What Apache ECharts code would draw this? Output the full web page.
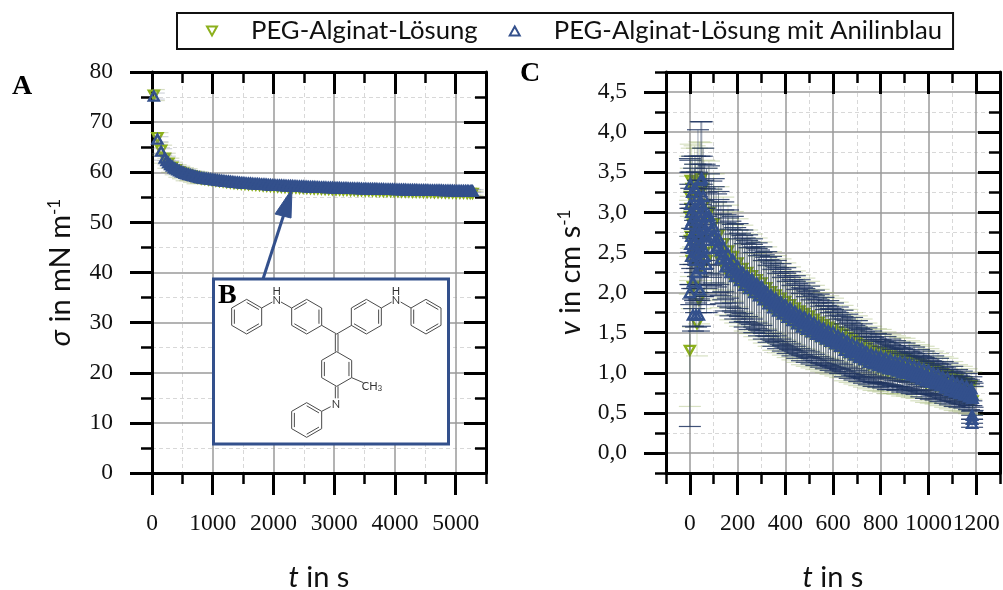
<!DOCTYPE html>
<html><head><meta charset="utf-8">
<style>html,body{margin:0;padding:0;background:#fff}#c{width:1003px;height:590px}</style>
<script src="https://cdn.jsdelivr.net/npm/echarts@6/dist/echarts.min.js"></script>
</head><body><div id="c"></div>
<script>
const nameGreen='PEG-Alginat-Lösung', nameBlue='PEG-Alginat-Lösung mit Anilinblau';
const GREEN='#8cb01c', BLUE='#33508c', NAVY='#1e3460';
const SERIF='"Liberation Serif",serif', SANS='Lato,"Open Sans",sans-serif';

// Panel A
const tA=[30,90,150,210,270,330,390,450,510,570,
630,690,750,810,870,930,990,1050,1110,1170,
1230,1290,1350,1410,1470,1530,1590,1650,1710,1770,
1830,1890,1950,2010,2070,2130,2190,2250,2310,2370,
2430,2490,2550,2610,2670,2730,2790,2850,2910,2970,
3030,3090,3150,3210,3270,3330,3390,3450,3510,3570,
3630,3690,3750,3810,3870,3930,3990,4050,4110,4170,
4230,4290,4350,4410,4470,4530,4590,4650,4710,4770,
4830,4890,4950,5010,5070,5130,5190,5240,5280];
const blueA=[75.2,66.6,64.2,62.8,61.9,61.2,60.7,60.3,60.0,59.7,
59.5,59.3,59.1,58.9,58.8,58.7,58.6,58.5,58.4,58.3,
58.2,58.15,58.05,58.0,57.9,57.85,57.8,57.75,57.7,57.65,
57.6,57.55,57.5,57.45,57.4,57.4,57.35,57.3,57.3,57.25,
57.2,57.2,57.15,57.1,57.1,57.05,57.0,57.0,56.95,56.95,
56.9,56.9,56.85,56.85,56.8,56.8,56.8,56.75,56.75,56.7,
56.7,56.7,56.65,56.65,56.6,56.6,56.6,56.55,56.55,56.55,
56.5,56.5,56.5,56.45,56.45,56.45,56.4,56.4,56.4,56.4,
56.35,56.35,56.35,56.3,56.3,56.3,56.3,56.25,56.25];
const tA2=[240,300,360,420,480,540,600,
660,720,780,840,900,960,1020,1080,1140,1200,
1260,1320,1380,1440,1500,1560,1620,1680,1740,1800,
1860,1920,1980,2040,2100,2160,2220,2280,2340,2400,
2460,2520,2580,2640,2700,2760,2820,2880,2940,3000,
3060,3120,3180,3240,3300,3360,3420,3480,3540,3600,
3660,3720,3780,3840,3900,3960,4020,4080,4140,4200,
4260,4320,4380,4440,4500,4560,4620,4680,4740,4800,
4860,4920,4980,5040,5100,5160,5215,5260];
const blueA2=[62.3,61.5,60.9,60.5,60.1,59.8,59.6,
59.4,59.2,59.0,58.85,58.75,58.65,58.55,58.45,58.35,58.25,
58.2,58.1,58.0,57.95,57.9,57.8,57.8,57.7,57.7,57.6,
57.6,57.5,57.45,57.4,57.4,57.35,57.3,57.3,57.25,57.2,
57.2,57.15,57.1,57.1,57.05,57.0,57.0,56.95,56.95,56.9,
56.9,56.85,56.85,56.8,56.8,56.75,56.75,56.7,56.7,56.7,
56.7,56.65,56.65,56.6,56.6,56.6,56.55,56.55,56.55,56.5,
56.5,56.5,56.45,56.45,56.45,56.4,56.4,56.4,56.4,56.35,
56.35,56.35,56.3,56.3,56.3,56.3,56.25,56.25];
const greenA=[75.4,66.9,64.4,62.8,61.8,61.0,60.5,60.1,59.8,59.5,
59.3,59.1,58.9,58.7,58.6,58.5,58.4,58.3,58.2,58.1,
58.0,57.9,57.8,57.75,57.65,57.6,57.55,57.5,57.45,57.4,
57.3,57.25,57.2,57.15,57.1,57.05,57.0,56.95,56.95,56.9,
56.85,56.85,56.8,56.75,56.7,56.7,56.65,56.6,56.6,56.55,
56.5,56.5,56.45,56.45,56.4,56.4,56.35,56.35,56.3,56.3,
56.3,56.25,56.25,56.2,56.2,56.2,56.15,56.15,56.1,56.1,
56.1,56.05,56.05,56.05,56.0,56.0,56.0,55.95,55.95,55.95,
55.9,55.9,55.9,55.85,55.85,55.85,55.8,55.8,55.8];
const errBlueA=[0.6,0.5,0.5,0.4,0.4,0.4,0.4,0.4,0.4,0.4,
0.3,0.3,0.3,0.3,0.3,0.3,0.3,0.3,0.3,0.3,
0.3,0.3,0.3,0.3,0.3,0.3,0.3,0.3,0.3,0.3,
0.3,0.3,0.3,0.3,0.3,0.3,0.3,0.3,0.3,0.3,
0.3,0.3,0.3,0.3,0.3,0.3,0.3,0.3,0.3,0.3,
0.3,0.3,0.3,0.3,0.3,0.3,0.3,0.3,0.3,0.3,
0.3,0.3,0.3,0.3,0.3,0.3,0.3,0.3,0.3,0.3,
0.3,0.3,0.3,0.3,0.3,0.3,0.3,0.3,0.3,0.3,
0.3,0.3,0.3,0.3,0.3,0.3,0.3,0.3,0.3];
const errGreenA=[1.1,1.0,1.0,1.0,1.0,1.0,1.0,1.1,1.1,1.2,
1.0,1.1,1.2,0.9,0.8,0.8,0.8,0.7,0.7,0.7,
0.6,0.6,0.6,0.5,0.5,0.5,0.5,0.5,0.5,0.5,
0.4,0.4,0.4,0.4,0.4,0.4,0.4,0.4,0.4,0.4,
0.4,0.4,0.4,0.4,0.4,0.4,0.4,0.4,0.4,0.4,
0.4,0.4,0.4,0.4,0.4,0.4,0.4,0.4,0.4,0.4,
0.4,0.4,0.4,0.4,0.4,0.4,0.4,0.4,0.4,0.4,
0.4,0.4,0.4,0.4,0.4,0.4,0.4,0.4,0.4,0.4,
0.4,0.4,0.4,0.4,0.4,0.4,0.4,0.4,0.4];

// Panel C: scattered start of the measurement
const tEarlyBlue=[0,2,2,2,2,6,6,6,10,10,10,13,13,18,18,18,22,22,22,22,26,26,30,30,34,34,34,38,40,40,40,42,46,46,46,46,50,50,50,50,56,56,56,62,62,62,70,70,70];
const vEarlyBlue=[2.0,3.35,3.1,2.85,2.6,3.0,2.7,2.45,3.25,2.9,2.55,2.13,1.72,2.95,2.65,2.4,3.3,3.05,2.75,2.5,2.25,1.72,2.9,2.6,3.2,2.8,2.5,1.72,3.1,2.7,2.4,2.03,3.4,3.0,2.6,2.3,3.42,3.1,2.8,2.5,3.2,2.85,2.55,3.0,2.7,2.45,2.95,2.65,2.35];
const eEarlyBlue=[1.67,0.3,0.4,0.5,0.5,0.5,0.6,0.6,0.45,0.6,0.5,0.55,0.2,0.6,0.6,0.6,0.4,0.55,0.5,0.6,0.5,0.15,0.6,0.6,0.83,0.6,0.5,0.2,0.6,0.6,0.5,0.45,0.73,0.6,0.5,0.55,0.71,0.6,0.55,0.55,0.6,0.55,0.6,0.6,0.6,0.6,0.6,0.6,0.6];
const tEarlyGreen=[0,1,1,1,4,4,4,8,8,13,13,20,20,24,30,30,34,38,40,44,48,48,54,60,60,70,70];
const vEarlyGreen=[1.28,3.2,2.95,2.65,3.4,3.05,2.7,3.3,2.4,2.07,2.85,3.38,2.55,3.0,1.61,3.25,2.75,1.91,3.38,2.3,3.42,2.65,3.3,3.1,2.5,3.0,2.4];
const eEarlyGreen=[0.7,0.5,0.5,0.5,0.45,0.5,0.5,0.5,0.6,0.5,0.5,0.45,0.5,0.6,0.4,0.55,0.5,0.3,0.5,0.5,0.45,0.5,0.5,0.55,0.5,0.55,0.5];

// Panel C: main decay
const tC=[80,90,100,110,120,130,140,150,160,170,
180,190,200,210,220,230,240,250,260,270,
280,290,300,310,320,330,340,350,360,370,
380,390,400,410,420,430,440,450,460,470,
480,490,500,510,520,530,540,550,560,570,
580,590,600,610,620,630,640,650,660,670,
680,690,700,710,720,730,740,750,760,770,
780,790,800,810,820,830,840,850,860,870,
880,890,900,910,920,930,940,950,960,970,
980,990,1000,1010,1020,1030,1040,1050,1060,1070,
1080,1090,1100,1110,1120,1130,1140,1150,1160,1170,
1180,1185];
const vBlueC=[2.96,2.69,2.82,2.55,2.68,2.42,2.57,2.32,2.48,2.25,
2.41,2.20,2.33,2.15,2.26,2.09,2.21,2.05,2.17,2.00,
2.12,1.96,2.08,1.91,2.02,1.86,1.97,1.81,1.93,1.77,
1.89,1.73,1.85,1.69,1.81,1.65,1.77,1.61,1.73,1.57,
1.70,1.54,1.67,1.51,1.63,1.48,1.59,1.45,1.56,1.42,
1.53,1.39,1.51,1.36,1.47,1.33,1.44,1.28,1.40,1.25,
1.37,1.22,1.34,1.19,1.31,1.16,1.27,1.13,1.24,1.11,
1.22,1.09,1.21,1.07,1.19,1.05,1.17,1.04,1.15,1.02,
1.14,1.00,1.13,0.99,1.11,0.97,1.09,0.95,1.07,0.92,
1.05,0.90,1.03,0.88,1.00,0.86,0.98,0.84,0.95,0.81,
0.93,0.78,0.90,0.76,0.87,0.74,0.85,0.72,0.83,0.70,
0.80,0.68];
const vMidC=[2.86,2.79,2.72,2.65,2.58,2.52,2.47,2.42,2.38,2.35,
2.31,2.28,2.25,2.22,2.19,2.16,2.14,2.12,2.10,2.07,
2.05,2.03,2.01,1.98,1.95,1.93,1.90,1.88,1.86,1.84,
1.82,1.80,1.78,1.76,1.74,1.72,1.70,1.68,1.66,1.64,
1.63,1.61,1.60,1.58,1.56,1.54,1.52,1.50,1.49,1.47,
1.46,1.44,1.43,1.41,1.40,1.38,1.36,1.34,1.32,1.31,
1.29,1.28,1.26,1.25,1.24,1.22,1.20,1.19,1.17,1.16,
1.15,1.14,1.14,1.13,1.12,1.11,1.10,1.09,1.08,1.07,
1.07,1.06,1.05,1.04,1.03,1.02,1.01,1.00,0.99,0.98,
0.97,0.96,0.95,0.94,0.93,0.92,0.91,0.90,0.88,0.87,
0.85,0.84,0.83,0.82,0.80,0.79,0.78,0.77,0.76,0.75,
0.74,0.72];
const vGreenC=[3.00,2.66,2.86,2.52,2.72,2.39,2.61,2.29,2.52,2.22,
2.45,2.17,2.37,2.12,2.30,2.06,2.25,2.02,2.21,1.97,
2.16,1.93,2.12,1.88,2.06,1.83,2.01,1.78,1.97,1.74,
1.93,1.70,1.89,1.66,1.85,1.62,1.81,1.58,1.77,1.54,
1.74,1.51,1.71,1.48,1.67,1.45,1.63,1.42,1.60,1.39,
1.57,1.36,1.55,1.33,1.51,1.30,1.48,1.25,1.44,1.22,
1.41,1.19,1.38,1.16,1.35,1.13,1.31,1.10,1.28,1.08,
1.26,1.06,1.25,1.04,1.23,1.02,1.21,1.01,1.19,0.99,
1.18,0.97,1.17,0.96,1.15,0.94,1.13,0.92,1.11,0.89,
1.09,0.87,1.07,0.85,1.04,0.83,1.02,0.81,0.99,0.78,
0.97,0.75,0.94,0.73,0.91,0.71,0.89,0.69,0.87,0.67,
0.84,0.65];
const eBlueC=[.62,.60,.60,.58,.58,.56,.56,.55,.55,.54,
.54,.53,.53,.52,.52,.52,.51,.51,.50,.50,
.50,.50,.49,.49,.49,.48,.48,.48,.47,.47,
.47,.46,.46,.45,.45,.44,.44,.43,.43,.42,
.42,.41,.41,.40,.40,.39,.39,.38,.38,.37,
.37,.36,.36,.35,.35,.34,.34,.33,.33,.32,
.32,.31,.31,.30,.30,.29,.29,.28,.28,.28,
.27,.27,.27,.26,.26,.26,.25,.25,.25,.24,
.24,.24,.24,.23,.23,.23,.23,.22,.22,.22,
.22,.22,.21,.21,.21,.20,.20,.20,.19,.19,
.19,.18,.18,.18,.17,.17,.17,.16,.16,.16,
.15,.15];
const eGreenC=[.64,.62,.62,.60,.60,.58,.58,.57,.57,.56,
.56,.55,.55,.54,.54,.54,.53,.53,.52,.52,
.52,.52,.51,.51,.51,.50,.50,.50,.49,.49,
.49,.48,.48,.47,.47,.46,.46,.45,.45,.44,
.44,.43,.43,.42,.42,.41,.41,.40,.40,.39,
.39,.38,.38,.37,.37,.36,.36,.35,.35,.34,
.34,.33,.33,.32,.32,.31,.31,.30,.30,.30,
.29,.29,.29,.28,.28,.28,.27,.27,.27,.26,
.26,.26,.26,.25,.25,.25,.25,.24,.24,.24,
.24,.24,.23,.23,.23,.22,.22,.22,.21,.21,
.21,.20,.20,.20,.19,.19,.19,.18,.18,.18,
.17,.17];
const tTailBlue=[1183,1183,1183];
const vTailBlue=[0.47,0.42,0.37];
const eTailBlue=[0.05,0.05,0.05];

// Ticks
const xMajorA=[0,1000,2000,3000,4000,5000];
const xMinorA=[500,1500,2500,3500,4500,5500];
const yMajorA=[0,10,20,30,40,50,60,70,80];
const yMinorA=[5,15,25,35,45,55,65,75];
const xMajorC=[0,200,400,600,800,1000,1200];
const xMinorC=[-100,100,300,500,700,900,1100,1300];
const yMajorC=[0,0.5,1,1.5,2,2.5,3,3.5,4,4.5];
const yMinorC=[-0.25,0.25,0.75,1.25,1.75,2.25,2.75,3.25,3.75,4.25,4.75];

const rows=(t,v,e)=>t.map((x,i)=>[x,v[i],e[i]]);
const greenPtsA=rows(tA,greenA,errGreenA), bluePtsA=rows(tA,blueA,errBlueA);
const greenPtsC=rows(tEarlyGreen,vEarlyGreen,eEarlyGreen).concat(rows(tC,vGreenC,eGreenC));
const bluePtsC=rows(tEarlyBlue,vEarlyBlue,eEarlyBlue).concat(rows(tC,vBlueC,eBlueC),rows(tC,vMidC,eBlueC),rows(tTailBlue,vTailBlue,eTailBlue));
const bluePtsAAll=bluePtsA.concat(rows(tA2,blueA2,tA2));

const grids=[
 {left:152,top:72,width:334,height:401},{left:152,top:72,width:334,height:401},
 {left:666,top:72,width:334,height:401},{left:666,top:72,width:334,height:401}
].map(g=>Object.assign(g,{outerBoundsMode:'none',containLabel:false}));
const MAJ={color:'#9a9a9a',width:1.5,type:'solid'}, MIN={color:'#d8d8d8',width:1,type:[4,3]};
function axis(o){
 const a={type:'value',gridIndex:o.grid,position:o.pos,min:o.min,max:o.max,interval:o.interval,z:o.major?4:3,
  axisLine:{show:!!o.major,onZero:false,lineStyle:{color:'#000',width:3}},
  axisTick:{show:true,inside:!!o.inside,length:o.major?22:11,customValues:o.ticks,lineStyle:{color:'#000',width:o.major?3:2.5}},
  minorTick:{show:false},
  splitLine:{show:!!o.split,lineStyle:o.major?MAJ:MIN},
  axisLabel:{show:!!o.labels,margin:39,fontFamily:SERIF,fontSize:23.5,color:'#111',hideOverlap:false,showMinLabel:true,showMaxLabel:true,
    customValues:o.labels,formatter:o.fmt||(v=>String(v))}
 };
 if(o.name){a.name=o.name;a.nameLocation='middle';a.nameGap=o.gap;a.nameRotate=o.rot;
  a.nameMoveOverlap=false;
  a.nameTextStyle={fontFamily:SANS,fontSize:29,color:'#111',rich:{
    i:{fontFamily:SANS,fontSize:29,fontStyle:'italic',color:'#111'},
    sup:{fontFamily:SANS,fontSize:17,color:'#111',verticalAlign:'top',lineHeight:30}}};}
 return a;
}
const fmtC=v=>v.toFixed(1).replace('.',',');
const xAxes=[
 axis({grid:0,pos:'bottom',major:1,min:0,max:5500,interval:500,ticks:xMajorA,labels:xMajorA,split:1,name:'{i|t} in s',gap:90}),
 axis({grid:0,pos:'top',major:1,min:0,max:5500,interval:500,ticks:xMajorA,inside:1}),
 axis({grid:1,pos:'bottom',min:0,max:5500,interval:500,ticks:xMinorA,split:1}),
 axis({grid:1,pos:'top',min:0,max:5500,interval:500,ticks:xMinorA,inside:1}),
 axis({grid:2,pos:'bottom',major:1,min:-100,max:1300,interval:100,ticks:xMajorC,labels:xMajorC,split:1,name:'{i|t} in s',gap:90}),
 axis({grid:2,pos:'top',major:1,min:-100,max:1300,interval:100,ticks:xMajorC,inside:1}),
 axis({grid:3,pos:'bottom',min:-100,max:1300,interval:100,ticks:xMinorC,split:1}),
 axis({grid:3,pos:'top',min:-100,max:1300,interval:100,ticks:xMinorC,inside:1})
];
const yAxes=[
 axis({grid:0,pos:'left',major:1,min:0,max:80,interval:5,ticks:yMajorA,labels:yMajorA,split:1,name:'{i|σ} in mN m{sup|-1}',gap:76,rot:90}),
 axis({grid:0,pos:'right',major:1,min:0,max:80,interval:5,ticks:yMajorA,inside:1}),
 axis({grid:1,pos:'left',min:0,max:80,interval:5,ticks:yMinorA,split:1}),
 axis({grid:1,pos:'right',min:0,max:80,interval:5,ticks:yMinorA,inside:1}),
 axis({grid:2,pos:'left',major:1,min:-0.25,max:4.75,interval:0.25,ticks:yMajorC,labels:yMajorC,fmt:fmtC,split:1,name:'{i|v} in cm s{sup|-1}',gap:80,rot:90}),
 axis({grid:2,pos:'right',major:1,min:-0.25,max:4.75,interval:0.25,ticks:yMajorC,inside:1}),
 axis({grid:3,pos:'left',min:-0.25,max:4.75,interval:0.25,ticks:yMinorC,split:1}),
 axis({grid:3,pos:'right',min:-0.25,max:4.75,interval:0.25,ticks:yMinorC,inside:1})
];

function errBars(name,data,xi,color,stemColor,z){
 return {type:'custom',name,data,xAxisIndex:xi,yAxisIndex:xi,z,silent:true,clip:true,animation:false,
  encode:{x:0,y:1},
  renderItem:(p,api)=>{
   const x=api.value(0),y=api.value(1),e=api.value(2);
   const hi=api.coord([x,y+e]),lo=api.coord([x,y-e]);
   const st={stroke:color,lineWidth:1.2,fill:null}, ss={stroke:stemColor,lineWidth:1,fill:null};
   return {type:'group',children:[
    {type:'line',shape:{x1:hi[0],y1:hi[1],x2:lo[0],y2:lo[1]},style:ss},
    {type:'line',shape:{x1:hi[0]-11,y1:hi[1],x2:hi[0]+11,y2:hi[1]},style:st},
    {type:'line',shape:{x1:lo[0]-11,y1:lo[1],x2:lo[0]+11,y2:lo[1]},style:st}]};
  }};
}
function pts(name,data,xi,color,rot,z){
 return {type:'scatter',name,data:data.map(d=>[d[0],d[1]]),xAxisIndex:xi,yAxisIndex:xi,z,
  symbol:'triangle',symbolSize:[10,9],symbolRotate:rot,clip:false,animation:false,silent:true,
  itemStyle:{color:'rgba(255,255,255,0)',borderColor:color,borderWidth:2.4,opacity:1}};
}
const series=[
 errBars('errGreenA',greenPtsA,0,'rgba(140,160,90,0.35)','rgba(140,160,90,0.3)',5),
 pts(nameGreen,greenPtsA,0,GREEN,180,6),
 errBars('errBlueA',bluePtsA,0,'rgba(120,130,150,0.35)','rgba(120,130,150,0.3)',7),
 pts(nameBlue,bluePtsAAll,0,BLUE,0,8),
 errBars('errGreenC',greenPtsC,4,'rgba(140,165,80,0.35)','rgba(140,165,80,0.3)',5),
 pts(nameGreen,greenPtsC,4,GREEN,180,6),
 errBars('errBlueC',bluePtsC,4,'rgba(30,52,96,0.85)','rgba(50,66,100,0.5)',7),
 pts(nameBlue,bluePtsC,4,BLUE,0,8)
];

// Inset B: structure drawing of the dye (coordinates of the illustration, not data)
const Z2=[];
const ox=210, oy=180, S=1/3;
const P=(x,y)=>[ox+x*S,oy+y*S];
const bond=(a,b,c,d)=>{const p=P(a,b),q=P(c,d);Z2.push({type:'line',z:101,silent:true,shape:{x1:p[0],y1:p[1],x2:q[0],y2:q[1]},style:{stroke:'#4a4a4a',lineWidth:1,fill:null}});};
function hex(cx,cy,inner){
 const v=[[0,-52],[45,-26],[45,26],[0,52],[-45,26],[-45,-26]];
 for(let i=0;i<6;i++){const a=v[i],b=v[(i+1)%6];bond(cx+a[0],cy+a[1],cx+b[0],cy+b[1]);
  if(inner.includes(i)){bond(cx+a[0]*.82,cy+a[1]*.82,cx+b[0]*.82,cy+b[1]*.82);}}
}
hex(110,410,[0,2,4]);hex(290,410,[1,3,5]);hex(469,410,[1,3,5]);hex(648,410,[0,2,4]);
hex(380,567,[1,4]);hex(290,720,[0,2,4]);
bond(155,384,187,366);bond(213,366,245,384);bond(335,436,380,462);bond(380,462,425,436);
bond(514,384,545,366);bond(572,366,603,384);
bond(376,462,376,515);bond(384,462,384,515);
bond(376,619,376,655);bond(384,619,384,655);
bond(335,694,362,680);bond(425,593,460,608);
const atom=(t,x,y)=>{const p=P(x,y);Z2.push({type:'text',z:101,silent:true,x:p[0],y:p[1],style:{text:t,fontFamily:SANS,fontSize:11,fill:'#333',align:'center',verticalAlign:'middle',rich:{s:{fontSize:8,fill:'#333',verticalAlign:'bottom',fontFamily:SANS}}}});};
atom('H',200,335);atom('N',200,362);atom('H',558,335);atom('N',558,362);atom('N',378,672);atom('CH{s|3}',486,620);

const graphic=[
 {type:'polygon',z:99,silent:true,shape:{points:[[292,189],[275,214],[291,218]]},style:{fill:BLUE,stroke:BLUE,lineWidth:1}},
 {type:'line',z:99,silent:true,shape:{x1:263,y1:279,x2:284,y2:214},style:{stroke:BLUE,lineWidth:3,fill:null}},
 {type:'rect',z:100,silent:true,shape:{x:213.5,y:279,width:235,height:165},style:{fill:'#fff',stroke:BLUE,lineWidth:3}},
 {type:'text',z:101,silent:true,x:218,y:296,style:{text:'B',fontFamily:SERIF,fontWeight:'bold',fontSize:28,fill:'#000',verticalAlign:'middle'}},
 {type:'text',z:101,silent:true,x:12,y:87,style:{text:'A',fontFamily:SERIF,fontWeight:'bold',fontSize:28,fill:'#000',verticalAlign:'middle'}},
 {type:'text',z:101,silent:true,x:520,y:74,style:{text:'C',fontFamily:SERIF,fontWeight:'bold',fontSize:28,fill:'#000',verticalAlign:'middle'}}
].concat(Z2);

const chart=echarts.init(document.getElementById('c'),null,{renderer:'canvas'});
chart.setOption({
 animation:false,backgroundColor:'#fff',
 legend:{show:true,data:[{name:nameGreen,icon:'path://M0,0 L10,0 L5,9 Z'},{name:nameBlue}],left:177,top:13,orient:'horizontal',itemWidth:10,itemHeight:9,itemGap:31,
  padding:[5,11,5,29],borderColor:'#111',borderWidth:2,selectedMode:false,
  textStyle:{fontFamily:SANS,fontSize:25.7,color:'#111',padding:[0,0,0,29]}},
 grid:grids,xAxis:xAxes,yAxis:yAxes,series,graphic
});
</script></body></html>
